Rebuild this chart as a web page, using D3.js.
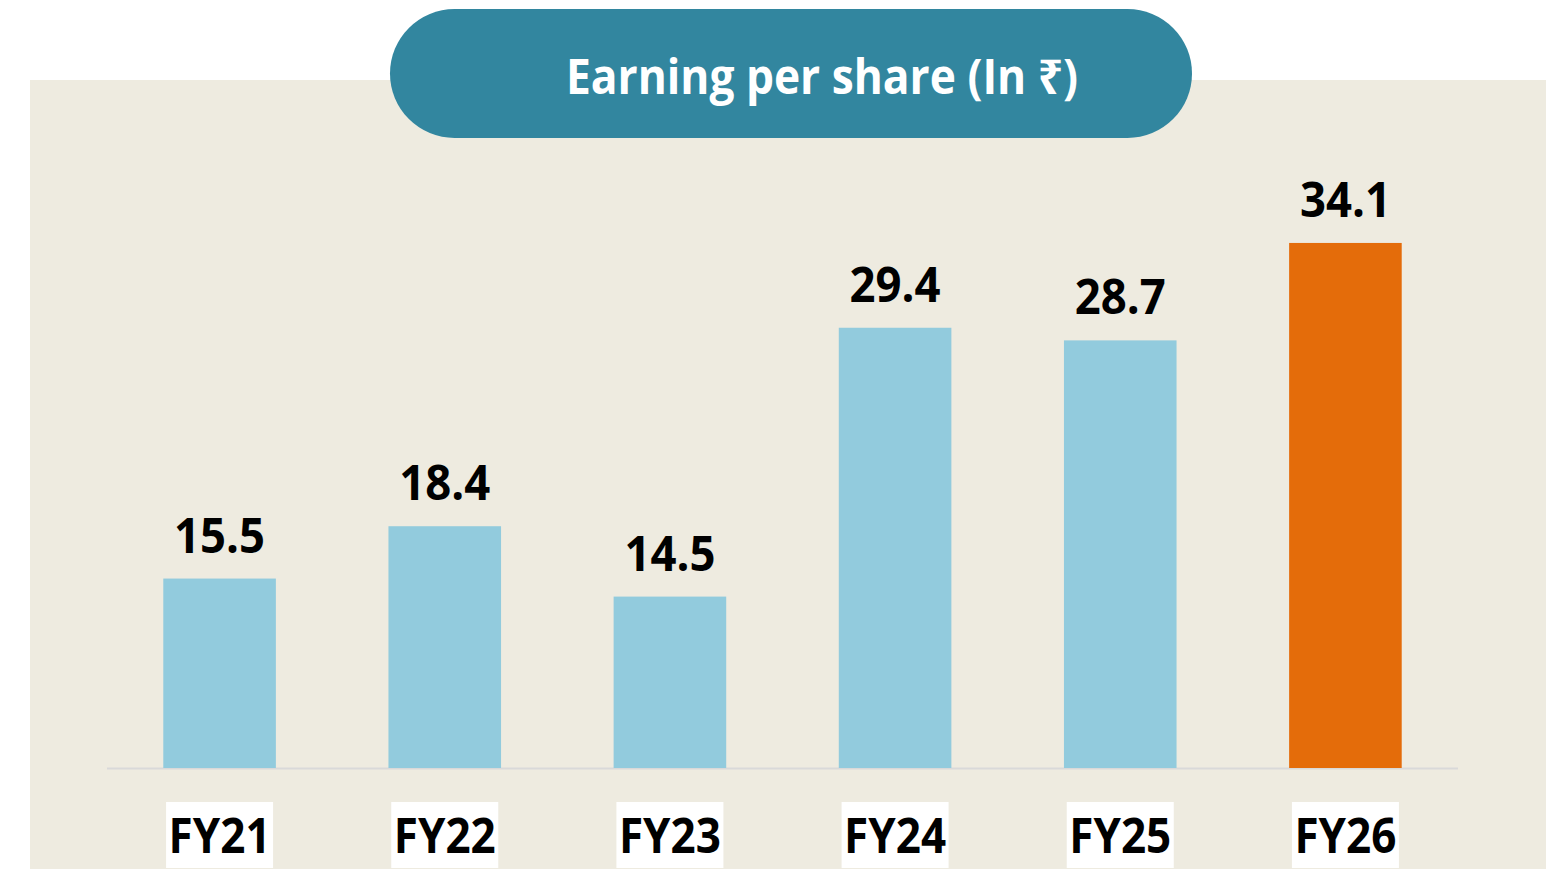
<!DOCTYPE html>
<html>
<head>
<meta charset="utf-8">
<script src="https://cdn.jsdelivr.net/npm/d3@7"></script>
<style>
html,body{margin:0;padding:0;background:#ffffff;}
svg{display:block;}
</style>
</head>
<body>
<svg id="chart" width="1549" height="869"></svg>
<script>
const categories = ["FY21", "FY22", "FY23", "FY24", "FY25", "FY26"];
const values = [15.5, 18.4, 14.5, 29.4, 28.7, 34.1];
const valueLabels = ["15.5", "18.4", "14.5", "29.4", "28.7", "34.1"];
const highlight = ["FY26"];
const title = "Earning per share (In ₹)";

const svg = d3.select("#chart");
const fontFam = "'Open Sans','Noto Sans','DejaVu Sans',sans-serif";

// panel background
svg.append("rect").attr("x", 30).attr("y", 80).attr("width", 1516).attr("height", 789).attr("fill", "#eeebe0");

// scales
const x = d3.scaleBand().domain(categories).range([107, 1458]).paddingInner(0.5).paddingOuter(0.25);
const y = d3.scaleLinear().domain([5, 40]).range([768, 136.5]);

// baseline
svg.append("line").attr("x1", 107).attr("x2", 1458).attr("y1", 768.5).attr("y2", 768.5)
  .attr("stroke", "#d9d9d9").attr("stroke-width", 2);

// bars
svg.append("g").selectAll("rect").data(categories).join("rect")
  .attr("x", d => x(d))
  .attr("width", x.bandwidth())
  .attr("y", (d, i) => y(values[i]))
  .attr("height", (d, i) => y(5) - y(values[i]))
  .attr("fill", d => highlight.includes(d) ? "#e46c0a" : "#92cbdd");

// value labels
svg.append("g").selectAll("text").data(categories).join("text")
  .attr("x", d => x(d) + x.bandwidth() / 2)
  .attr("y", (d, i) => y(values[i]) - 26)
  .attr("text-anchor", "middle")
  .attr("font-family", fontFam)
  .attr("font-weight", 700)
  .attr("font-size", 48)
  .attr("textLength", 91)
  .attr("lengthAdjust", "spacingAndGlyphs")
  .attr("fill", "#000000")
  .text((d, i) => valueLabels[i]);

// category label boxes
const cat = svg.append("g").selectAll("g").data(categories).join("g");
cat.append("rect")
  .attr("x", d => x(d) + x.bandwidth() / 2 - 53.5)
  .attr("y", 802)
  .attr("width", 107)
  .attr("height", 66)
  .attr("fill", "#ffffff");
cat.append("text")
  .attr("x", d => x(d) + x.bandwidth() / 2)
  .attr("y", 853)
  .attr("text-anchor", "middle")
  .attr("font-family", fontFam)
  .attr("font-weight", 700)
  .attr("font-size", 48)
  .attr("textLength", 102)
  .attr("lengthAdjust", "spacingAndGlyphs")
  .attr("fill", "#000000")
  .text(d => d);

// title pill
svg.append("rect").attr("x", 390).attr("y", 9).attr("width", 802).attr("height", 129)
  .attr("rx", 64.5).attr("ry", 64.5).attr("fill", "#32869f");
svg.append("text")
  .attr("x", 566).attr("y", 94)
  .attr("font-family", fontFam)
  .attr("font-weight", 700)
  .attr("font-size", 48)
  .attr("textLength", 512)
  .attr("lengthAdjust", "spacingAndGlyphs")
  .attr("fill", "#ffffff")
  .text(title);
</script>
</body>
</html>
